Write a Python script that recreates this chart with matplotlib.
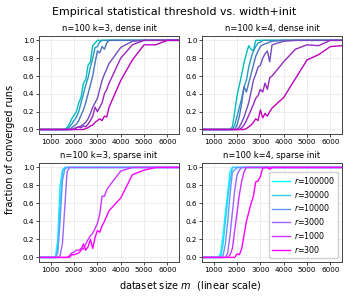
import numpy as np
import matplotlib
matplotlib.use("Agg")
import matplotlib.pyplot as plt

# dataset sizes m (shared x grid)
m = [500,
     1000, 1100, 1200, 1300, 1400, 1500, 1600, 1700, 1800, 1900,
     2000, 2100, 2200, 2300, 2400, 2500, 2600, 2700, 2800, 2900,
     3000, 3100, 3200, 3300, 3400, 3500,
     4000, 4500, 5000, 5500, 6000, 6500]

widths = [100000, 30000, 10000, 3000, 1000, 300]
titles = ["n=100 k=3, dense init", "n=100 k=4, dense init",
          "n=100 k=3, sparse init", "n=100 k=4, sparse init"]

# k=3 dense
k3_dense = [
    [0, 0, 0, 0, 0, 0, 0, 0, 0.02, 0.06, 0.12, 0.16, 0.2, 0.3, 0.36, 0.52, 0.56, 0.72, 0.76, 0.94, 0.97,
     1, 1, 1, 1, 1, 1, 1, 1, 1, 1, 1, 1],
    [0, 0, 0, 0, 0, 0, 0, 0, 0, 0.03, 0.06, 0.1, 0.14, 0.2, 0.3, 0.4, 0.5, 0.58, 0.7, 0.8, 0.92,
     0.93, 0.98, 1, 1, 1, 1, 1, 1, 1, 1, 1, 1],
    [0, 0, 0, 0, 0, 0, 0, 0, 0, 0, 0.02, 0.04, 0.06, 0.1, 0.16, 0.22, 0.3, 0.4, 0.5, 0.6, 0.75,
     0.88, 0.86, 0.93, 0.9, 0.97, 1, 1, 1, 1, 1, 1, 1],
    [0, 0, 0, 0, 0, 0, 0, 0, 0, 0, 0, 0.01, 0.02, 0.03, 0.04, 0.06, 0.08, 0.12, 0.18, 0.25, 0.3,
     0.35, 0.45, 0.55, 0.62, 0.68, 0.74, 0.92, 0.99, 1, 1, 1, 1],
    [0, 0, 0, 0, 0, 0, 0, 0, 0, 0, 0, 0, 0.02, 0.03, 0.02, 0.04, 0.03, 0.06, 0.1, 0.15, 0.25,
     0.2, 0.25, 0.3, 0.4, 0.45, 0.52, 0.8, 0.95, 1, 1, 1, 1],
    [0, 0, 0, 0, 0, 0, 0, 0, 0, 0, 0, 0, 0, 0, 0, 0, 0.01, 0.02, 0.04, 0.05, 0.08,
     0.1, 0.12, 0.1, 0.15, 0.14, 0.25, 0.55, 0.78, 0.95, 0.95, 1, 1],
]

# k=4 dense
k4_dense = [
    [0, 0, 0, 0, 0, 0, 0, 0, 0, 0.03, 0.2, 0.38, 0.5, 0.62, 0.75, 0.85, 0.94, 0.9, 0.88, 1, 1,
     1, 1, 1, 1, 1, 1, 1, 1, 1, 1, 1, 1],
    [0, 0, 0, 0, 0, 0, 0, 0, 0, 0, 0.05, 0.15, 0.25, 0.35, 0.48, 0.55, 0.7, 0.8, 0.88, 0.93, 0.97,
     0.98, 1, 1, 1, 1, 1, 1, 1, 1, 1, 1, 1],
    [0, 0, 0, 0, 0, 0, 0, 0, 0, 0, 0, 0.05, 0.15, 0.3, 0.48, 0.42, 0.52, 0.62, 0.72, 0.82, 0.88,
     0.93, 0.95, 0.96, 0.97, 0.98, 0.99, 1, 1, 1, 1, 1, 1],
    [0, 0, 0, 0, 0, 0, 0, 0, 0, 0, 0, 0, 0.03, 0.08, 0.14, 0.22, 0.3, 0.42, 0.55, 0.62, 0.7,
     0.72, 0.8, 0.85, 0.88, 0.76, 0.95, 0.99, 1, 1, 1, 1, 1],
    [0, 0, 0, 0, 0, 0, 0, 0, 0, 0, 0, 0, 0, 0.02, 0.05, 0.1, 0.16, 0.22, 0.28, 0.35, 0.38,
     0.45, 0.42, 0.52, 0.45, 0.58, 0.6, 0.76, 0.9, 0.95, 0.94, 1, 1],
    [0, 0, 0, 0, 0, 0, 0, 0, 0, 0, 0, 0, 0, 0, 0, 0.01, 0.03, 0.05, 0.08, 0.12, 0.1,
     0.22, 0.13, 0.18, 0.15, 0.2, 0.24, 0.36, 0.57, 0.78, 0.84, 0.93, 0.94],
]

# k=3 sparse
k3_sparse = [
    [0, 0, 0, 0, 0.2, 0.8, 0.97, 1, 1, 1, 1, 1, 1, 1, 1, 1, 1, 1, 1, 1, 1,
     1, 1, 1, 1, 1, 1, 1, 1, 1, 1, 1, 1],
    [0, 0, 0, 0, 0.1, 0.6, 0.95, 1, 1, 1, 1, 1, 1, 1, 1, 1, 1, 1, 1, 1, 1,
     1, 1, 1, 1, 1, 1, 1, 1, 1, 1, 1, 1],
    [0, 0, 0, 0, 0.05, 0.4, 0.85, 0.98, 1, 1, 1, 1, 1, 1, 1, 1, 1, 1, 1, 1, 1,
     1, 1, 1, 1, 1, 1, 1, 1, 1, 1, 1, 1],
    [0, 0, 0, 0, 0, 0.02, 0.15, 0.55, 0.95, 1, 1, 1, 1, 1, 1, 1, 1, 1, 1, 1, 1,
     1, 1, 1, 1, 1, 1, 1, 1, 1, 1, 1, 1],
    [0, 0, 0, 0, 0, 0, 0, 0, 0, 0.02, 0.05, 0.06, 0.08, 0.08, 0.1, 0.09, 0.15, 0.2, 0.24, 0.27, 0.32,
     0.38, 0.48, 0.68, 0.68, 0.75, 0.79, 0.96, 1, 1, 1, 1, 1],
    [0, 0, 0, 0, 0, 0, 0, 0, 0, 0, 0.03, 0.03, 0.04, 0.05, 0.08, 0.15, 0.08, 0.12, 0.2, 0.1, 0.22,
     0.3, 0.28, 0.35, 0.4, 0.46, 0.52, 0.66, 0.92, 0.97, 1, 1, 1],
]

# k=4 sparse
k4_sparse = [
    [0, 0, 0, 0, 0.05, 0.25, 0.5, 0.72, 0.95, 1, 1, 1, 1, 1, 1, 1, 1, 1, 1, 1, 1,
     1, 1, 1, 1, 1, 1, 1, 1, 1, 1, 1, 1],
    [0, 0, 0, 0, 0, 0.15, 0.4, 0.65, 0.85, 1, 1, 1, 1, 1, 1, 1, 1, 1, 1, 1, 1,
     1, 1, 1, 1, 1, 1, 1, 1, 1, 1, 1, 1],
    [0, 0, 0, 0, 0, 0.02, 0.15, 0.4, 0.7, 0.95, 0.97, 1, 1, 1, 1, 1, 1, 1, 1, 1, 1,
     1, 1, 1, 1, 1, 1, 1, 1, 1, 1, 1, 1],
    [0, 0, 0, 0, 0, 0, 0, 0.05, 0.25, 0.5, 0.75, 0.92, 0.97, 1, 1, 1, 1, 1, 1, 1, 1,
     1, 1, 1, 1, 1, 1, 1, 1, 1, 1, 1, 1],
    [0, 0, 0, 0, 0, 0, 0, 0, 0.03, 0.1, 0.3, 0.5, 0.7, 0.85, 0.95, 1, 1, 1, 1, 1, 1,
     1, 1, 1, 1, 1, 1, 1, 1, 1, 1, 1, 1],
    [0, 0, 0, 0, 0, 0, 0, 0, 0, 0, 0, 0.04, 0.03, 0.1, 0.25, 0.4, 0.5, 0.6, 0.68, 0.84, 0.85,
     0.9, 0.99, 1, 1, 0.98, 1, 1, 1, 1, 1, 1, 1],
]

panels = [k3_dense, k4_dense, k3_sparse, k4_sparse]

cmap = plt.get_cmap("cool")
base = [np.array(cmap(t)[:3]) for t in np.linspace(0, 1, len(widths))]

fig = plt.figure(figsize=(3.49, 2.99), dpi=100)
boxes = [[0.112, 0.552, 0.401, 0.328], [0.579, 0.552, 0.401, 0.328],
         [0.112, 0.124, 0.401, 0.331], [0.579, 0.124, 0.401, 0.331]]

for i, (vals, title) in enumerate(zip(panels, titles)):
    ax = fig.add_axes(boxes[i])
    dark = i < 2
    for j, (r, y) in enumerate(zip(widths, vals)):
        c = base[j] * 0.75 if dark else base[j]
        ax.plot(m, y, color=c, lw=1.0, label=r"$r$=%d" % r)
    ax.set_xlim(500, 6500)
    ax.set_ylim(-0.05, 1.05)
    ax.set_xticks([1000, 2000, 3000, 4000, 5000, 6000])
    ax.set_yticks([0.0, 0.2, 0.4, 0.6, 0.8, 1.0])
    ax.tick_params(labelsize=5.2, length=2, width=0.5, pad=1.5)
    ax.grid(True, color="#e6e6e6", lw=0.5)
    for s in ax.spines.values():
        s.set_linewidth(0.7)
        s.set_color("#444444")
    ax.set_title(title, fontsize=6.0, pad=3.5)
    if i == 3:
        ax.legend(loc="lower right", fontsize=5.7, frameon=True, handlelength=2.2,
                  borderpad=0.4, labelspacing=0.35, handletextpad=0.5,
                  fancybox=True, framealpha=0.9)

fig.suptitle("Empirical statistical threshold vs. width+init", fontsize=7.9, y=0.975)
fig.text(0.03, 0.5, "fraction of converged runs", rotation=90, va="center", ha="center", fontsize=7.0)
fig.text(0.545, 0.045, "dataset size $m$  (linear scale)", va="center", ha="center", fontsize=7.0)

fig.savefig("out.png", dpi=100)
